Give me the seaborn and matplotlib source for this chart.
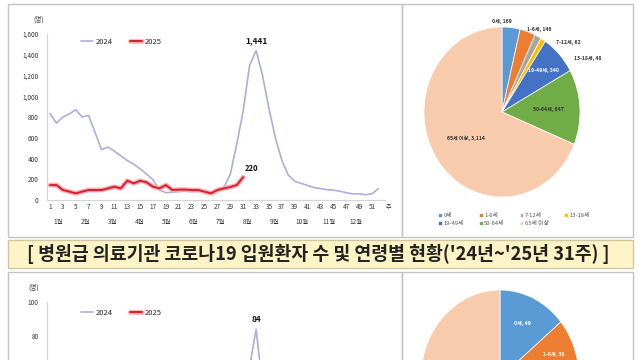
import matplotlib
matplotlib.use('Agg')
import matplotlib.pyplot as plt
import matplotlib.patheffects as pe
from matplotlib.patches import Rectangle
from matplotlib.lines import Line2D
import seaborn as sns
import numpy as np

# 상단 - 병원급 의료기관 코로나19 입원환자 수 (주별)
weeks_2024 = list(range(1, 53))
adm_2024 = [834, 740, 800, 830, 870, 800, 815, 650, 485, 510,
            470, 425, 380, 345, 300, 250, 195, 96, 70, 75,
            80, 85, 80, 85, 75, 80, 90, 120, 250, 540,
            860, 1300, 1441, 1200, 880, 600, 380, 240, 180, 160,
            140, 120, 110, 100, 95, 85, 70, 60, 60, 50,
            60, 110]
weeks_2025 = list(range(1, 32))
adm_2025 = [144, 144, 96, 81, 64, 81, 96, 96, 96, 112,
            128, 112, 186, 160, 186, 170, 128, 112, 144, 96,
            100, 100, 96, 96, 80, 64, 96, 112, 125, 144,
            220]

# 연령별 (24년~25년 31주 누적)
age_groups = ['0세', '1-6세', '7-12세', '13-18세', '19-49세', '50-64세', '65세 이상']
age_counts = [169, 146, 62, 48, 340, 647, 3114]
age_colors = ['#5B9BD5', '#ED7D31', '#A5A5A5', '#FFC000', '#4472C4', '#70AD47', '#F8CBAD']

# 하단 (잘린 부분) - 값은 그림에서 추정
adm2_2024 = [40, 36, 38, 40, 42, 38, 38, 30, 24, 25,
             23, 22, 20, 19, 17, 15, 12, 9, 5, 4,
             4, 4, 5, 5, 4, 5, 5, 7, 14, 28,
             45, 62, 84, 50, 40, 30, 20, 13, 10, 9,
             8, 7, 6, 5, 5, 5, 4, 3, 3, 3,
             3, 6]
adm2_2025 = [8, 8, 6, 5, 4, 4, 5, 6, 6, 6,
             7, 6, 10, 9, 10, 9, 7, 6, 8, 5,
             5, 5, 5, 5, 4, 4, 5, 6, 7, 8,
             12]
age_counts2 = [49, 38, 6, 5, 22, 45, 185]

month_labels = [f'{m}월' for m in range(1, 13)]

sns.set_theme(style='white')
plt.rcParams['font.family'] = ['Noto Sans CJK KR', 'DejaVu Sans']

W, H = 640, 360
fig = plt.figure(figsize=(6.4, 3.6), dpi=100)


def add_ax(x0, y0, x1, y1):
    return fig.add_axes([x0 / W, 1 - y1 / H, (x1 - x0) / W, (y1 - y0) / H])


def box(x0, y0, x1, y1, fc='none', ec='#c4c4c4'):
    fig.patches.append(Rectangle((x0 / W, 1 - y1 / H), (x1 - x0) / W, (y1 - y0) / H,
                                 transform=fig.transFigure, facecolor=fc,
                                 edgecolor=ec, linewidth=1.0, zorder=0))


# panel frames
box(8, 4, 402, 237)
box(402, 4, 633, 237)
box(8, 240, 633, 268, fc='#FFF4C6', ec='#cfc7a3')
box(8, 272, 402, 420)
box(402, 272, 633, 420)

fig.text(318 / W, 1 - 254 / H,
         "[ 병원급 의료기관 코로나19 입원환자 수 및 연령별 현황('24년~'25년 31주) ]",
         ha='center', va='center', fontsize=13.2, fontweight='bold', color='#222222')

c24 = '#ADADDF'
c25 = '#DC1E2A'
glow = [pe.Stroke(linewidth=3.4, foreground='#F7AEB5'), pe.Normal()]


def line_panel(ax, v24, v25, ymax, ystep, peak_label, last_label, fmt):
    sns.lineplot(x=weeks_2024, y=v24, ax=ax, color=c24, linewidth=1.2, label='2024')
    sns.lineplot(x=weeks_2025, y=v25, ax=ax, color=c25, linewidth=1.4, label='2025',
                 path_effects=glow)
    ax.set_xlim(0.5, 53)
    ax.set_ylim(0, ymax)
    ax.set_yticks(range(0, ymax + 1, ystep))
    ax.set_yticklabels([fmt(v) for v in range(0, ymax + 1, ystep)])
    ax.set_xticks(range(1, 52, 2))
    ax.set_xticklabels([str(w) for w in range(1, 52, 2)])
    ax.tick_params(axis='both', length=0, labelsize=4.6, colors='#333333', pad=2)
    ax.tick_params(axis='y', pad=6)
    for s in ['top', 'right']:
        ax.spines[s].set_visible(False)
    for s in ['left', 'bottom']:
        ax.spines[s].set_color('#d4d4d4')
        ax.spines[s].set_linewidth(0.8)
    ax.set_xlabel('')
    ax.set_ylabel('')
    ax.patch.set_alpha(0)
    handles = [Line2D([], [], color=c24, lw=1.2),
               Line2D([], [], color=c25, lw=1.4, path_effects=glow)]
    ax.legend(handles, ['2024', '2025'], loc='upper left', bbox_to_anchor=(0.08, 1.02),
              ncol=2, frameon=False, fontsize=5.5, handlelength=1.6,
              columnspacing=2.2, handletextpad=0.4)
    ax.text(-0.025, 1.085, '(명)', transform=ax.transAxes, fontsize=4.8,
            ha='center', va='center', color='#333333')
    pk = v24.index(max(v24))
    ax.annotate(peak_label, (weeks_2024[pk], v24[pk]), xytext=(0, 4),
                textcoords='offset points', ha='center', va='bottom',
                fontsize=6, fontweight='bold', color='#111111')
    if last_label:
        ax.annotate(last_label, (weeks_2025[-1], v25[-1]), xytext=(1, 3),
                    textcoords='offset points', ha='left', va='bottom',
                    fontsize=5.5, fontweight='bold', color='#111111')


ax1 = add_ax(46.8, 34, 384.9, 200)
line_panel(ax1, adm_2024, adm_2025, 1600, 200, '1,441', '220', lambda v: f'{v:,}')
for i, m in enumerate(month_labels):
    ax1.text(2.3 + i * 4.2, -0.135, m, transform=ax1.get_xaxis_transform(),
             ha='center', va='center', fontsize=4.6, color='#333333')
ax1.text(53.6, -0.04, '주', transform=ax1.get_xaxis_transform(),
         ha='center', va='center', fontsize=4.4, color='#333333')

# lower chart: only its upper part is visible in the picture
ax3 = add_ax(46.8, 302, 384.9, 472)
line_panel(ax3, adm2_2024, adm2_2025, 100, 20, '84', None, lambda v: str(v))
ax3.set_yticks([80, 100])
ax3.set_yticklabels(['80', '100'])
ax3.set_xticklabels([])
ax3.legend_.set_bbox_to_anchor((0.08, 1.0))
ax3.texts[0].set_position((-0.04, 1.085))


def pie_panel(ax, counts, label_pos, label_c, fs):
    wedges, _ = ax.pie(counts, colors=age_colors, startangle=90, counterclock=False,
                       wedgeprops=dict(edgecolor='white', linewidth=0.5))
    ax.set_aspect('auto')
    ax.set_xlim(-1, 1)
    ax.set_ylim(-1, 1)
    for w, g, n, p, c in zip(wedges, age_groups, counts, label_pos, label_c):
        if p is None:
            continue
        r, dx, dy = p
        a = np.deg2rad((w.theta1 + w.theta2) / 2)
        ax.annotate(f'{g}, {n:,}', (r * np.cos(a), r * np.sin(a)), xytext=(dx, dy),
                    textcoords='offset pixels', ha='center', va='center',
                    fontsize=fs, color=c, fontweight='bold', annotation_clip=False)
    return wedges


ax2 = add_ax(424, 27, 580, 197)
wedges = pie_panel(ax2, age_counts,
                   [(1.0, -9, 6), (1.0, 12, 2), (1.0, 30, -6), (1.0, 45, -19),
                    (0.72, 0, 0), (0.6, 0, 0), (0.55, 0, 0)],
                   ['#333333'] * 4 + ['white', '#333333', '#333333'], 3.7)

order = [0, 4, 1, 5, 2, 6, 3]
fig.legend([wedges[i] for i in order], [age_groups[i] for i in order],
           loc='center', bbox_to_anchor=(514 / W, 1 - 219.5 / H), ncol=4,
           frameon=False, fontsize=4.2, handlelength=0.6, handleheight=0.6,
           handletextpad=0.3, columnspacing=2.6, labelspacing=0.6, labelcolor='#555555')

ax4 = add_ax(421, 290, 579, 466)
pie_panel(ax4, age_counts2,
          [(0.68, 0, 0), (0.72, 0, 2), None, None, None, None, None],
          ['white'] * 7, 3.7)

fig.savefig('out.png', dpi=100, facecolor='white')
